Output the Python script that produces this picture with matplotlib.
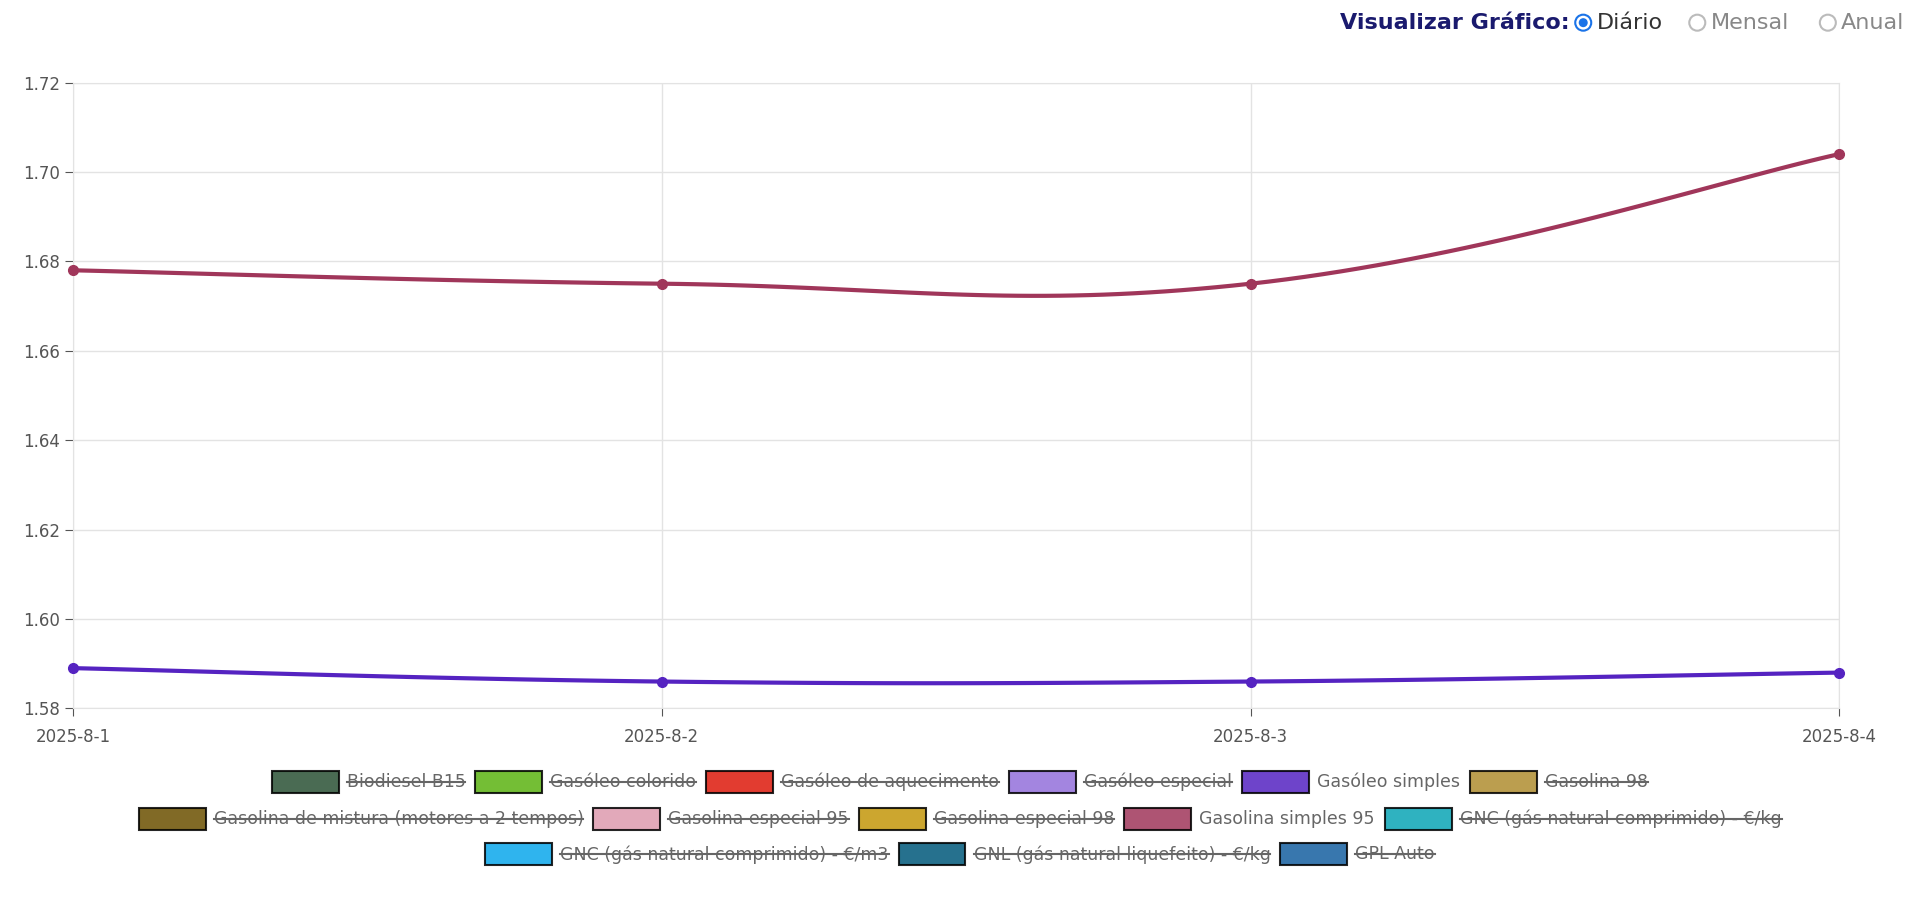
import numpy as np
import matplotlib.pyplot as plt
from matplotlib.patches import Rectangle, Circle
from matplotlib.lines import Line2D

dates = ["2025-8-1", "2025-8-2", "2025-8-3", "2025-8-4"]
gasolina_simples_95 = [1.678, 1.675, 1.675, 1.704]
gasoleo_simples = [1.589, 1.586, 1.586, 1.588]
y_ticks = [1.58, 1.60, 1.62, 1.64, 1.66, 1.68, 1.70, 1.72]

legend_rows = [
    [("Biodiesel B15", "#2a5135", True), ("Gasóleo colorido", "#5cb312", True),
     ("Gasóleo de aquecimento", "#dd1a0b", True), ("Gasóleo especial", "#9370db", True),
     ("Gasóleo simples", "#5523c1", False), ("Gasolina 98", "#b08d30", True)],
    [("Gasolina de mistura (motores a 2 tempos)", "#6b5000", True),
     ("Gasolina especial 95", "#dd9aae", True), ("Gasolina especial 98", "#c4970a", True),
     ("Gasolina simples 95", "#a0365a", False),
     ("GNC (gás natural comprimido) - €/kg", "#0aa5b5", True)],
    [("GNC (gás natural comprimido) - €/m3", "#0aa7eb", True),
     ("GNL (gás natural liquefeito) - €/kg", "#00587a", True), ("GPL Auto", "#155fa0", True)],
]


def smooth(y, t=0.4, n=40):
    # chart.js-like cubic bezier smoothing through the points
    x = np.arange(len(y), dtype=float)
    y = np.asarray(y, float)
    xs, ys = [], []
    for i in range(len(y) - 1):
        p0 = (x[max(i - 1, 0)], y[max(i - 1, 0)])
        p1 = (x[i], y[i]); p2 = (x[i + 1], y[i + 1])
        p3 = (x[min(i + 2, len(y) - 1)], y[min(i + 2, len(y) - 1)])
        c1 = (p1[0] + (p2[0] - p0[0]) * t / 2, p1[1] + (p2[1] - p0[1]) * t / 2)
        c2 = (p2[0] - (p3[0] - p1[0]) * t / 2, p2[1] - (p3[1] - p1[1]) * t / 2)
        s = np.linspace(0, 1, n)
        for a, b, c, d, out in ((p1[0], c1[0], c2[0], p2[0], xs), (p1[1], c1[1], c2[1], p2[1], ys)):
            out.extend((1 - s) ** 3 * a + 3 * (1 - s) ** 2 * s * b + 3 * (1 - s) * s ** 2 * c + s ** 3 * d)
    return xs, ys


fig = plt.figure(figsize=(19.2, 9.07), dpi=100)
ax = fig.add_axes([0.038, 0.219, 0.92, 0.69])
for vals, col in ((gasolina_simples_95, "#a0365a"), (gasoleo_simples, "#5523c1")):
    sx, sy = smooth(vals)
    ax.plot(sx, sy, color=col, lw=3, zorder=3, clip_on=False)
    ax.plot(range(len(vals)), vals, "o", color=col, ms=7, zorder=4, clip_on=False)
ax.set_xlim(0, 3)
ax.set_ylim(1.58, 1.72)
ax.set_xticks(range(len(dates)))
ax.set_xticklabels(dates)
ax.set_yticks(y_ticks)
ax.set_yticklabels([f"{v:.2f}" for v in y_ticks])
ax.grid(color="#e3e3e3", lw=1)
for s in ax.spines.values():
    s.set_color("#e3e3e3")
ax.tick_params(colors="#555555", labelsize=12, length=6)
ax.tick_params(axis="x", pad=8)

# legend drawn manually
r = fig.canvas.get_renderer()
W, H = fig.bbox.width, fig.bbox.height
row_y = [0.138, 0.097, 0.058]
bw, bh, gap, sep = 67, 22, 8, 10
for row, yy in zip(legend_rows, row_y):
    texts = []
    for name, col, hidden in row:
        t = fig.text(0, yy, name, fontsize=12.5, color="#666666", va="center")
        texts.append(t)
    widths = [t.get_window_extent(r).width for t in texts]
    total = sum(bw + gap + w for w in widths) + sep * (len(row) - 1)
    x = (W - total) / 2
    for (name, col, hidden), t, w in zip(row, texts, widths):
        fig.patches.append(Rectangle((x / W, yy - bh / 2 / H), bw / W, bh / H, transform=fig.transFigure,
                                     facecolor=col, edgecolor="black", lw=1.5, alpha=0.85))
        tx = x + bw + gap
        t.set_x(tx / W)
        if hidden:
            fig.lines.append(Line2D([tx / W, (tx + w) / W], [yy, yy], transform=fig.transFigure,
                                    color="#666666", lw=1.5))
        x = tx + w + sep

# header radio buttons
fig.text(0.698, 0.975, "Visualizar Gráfico:", fontsize=16, fontweight="bold", color="#1a1a6e", va="center")
opts = [("Diário", True), ("Mensal", False), ("Anual", False)]
xs = [0.8246, 0.884, 0.952]
for (label, sel), xo in zip(opts, xs):
    fig.patches.append(Circle((xo * W, 0.975 * H), 8, transform=None, facecolor="white",
                              edgecolor="#1a73e8" if sel else "#bbbbbb", lw=1.5))
    if sel:
        fig.patches.append(Circle((xo * W, 0.975 * H), 4.5, transform=None, facecolor="#1a73e8"))
    fig.text(xo + 0.007, 0.975, label, fontsize=16, color="#333333" if sel else "#888888", va="center")

fig.savefig("out.png", dpi=100)
